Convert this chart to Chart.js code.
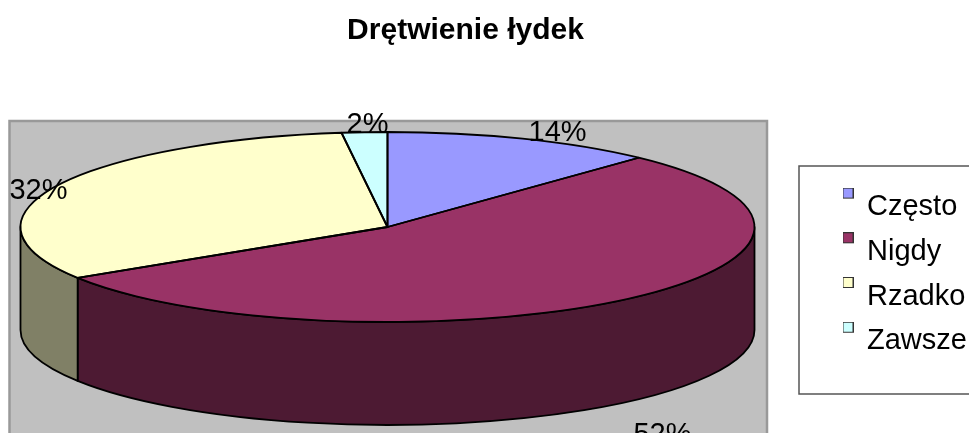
<!DOCTYPE html>
<html>
<head>
<meta charset="utf-8">
<style>
  body { margin: 0; background: #fff; }
  canvas { display: block; }
</style>
<script src="https://cdn.jsdelivr.net/npm/chart.js@4/dist/chart.umd.min.js"></script>
</head>
<body>
<canvas id="myChart" width="969" height="433"></canvas>
<script>
var title = 'Drętwienie łydek';
var categories = ['Często', 'Nigdy', 'Rzadko', 'Zawsze'];
// slice sizes as measured on the drawn pie; the printed labels below differ a little for the first two
var sliceShares = [12, 54, 32, 2];
var percentLabels = ['14%', '52%', '32%', '2%'];

var topColors = ['#9999ff', '#993366', '#ffffcc', '#ccffff'];
var sideColors = ['#4d4d80', '#4d1a33', '#808066', '#668080'];
var labelNudges = [[35, -6], [41, 32], [-17, 4], [3, -7]];

var pieBox = { x: 387.5, y: 227, rx: 367, ry: 95, depth: 103 };
var FONT = '"Liberation Sans", Arial, sans-serif';

function arcAngles(arc) {
    return { from: arc.startAngle, to: arc.endAngle };
}

function drawWall(ctx, a, b, color) {
    var p = pieBox;
    ctx.beginPath();
    ctx.ellipse(p.x, p.y, p.rx, p.ry, 0, a, b);
    ctx.lineTo(p.x + p.rx * Math.cos(b), p.y + p.ry * Math.sin(b) + p.depth);
    ctx.ellipse(p.x, p.y + p.depth, p.rx, p.ry, 0, b, a, true);
    ctx.closePath();
    ctx.fillStyle = color;
    ctx.fill();
    ctx.stroke();
}

var piePlugin = {
    id: 'flatPie',
    beforeDraw: function (chart) {
        var ctx = chart.ctx;
        ctx.save();
        ctx.strokeStyle = '#555555';
        ctx.lineWidth = 1.5;
        ctx.beginPath();
        ctx.moveTo(969, 166);
        ctx.lineTo(799, 166);
        ctx.lineTo(799, 394);
        ctx.lineTo(969, 394);
        ctx.stroke();
        ctx.restore();
    },
    afterLayout: function (chart) {
        // title sits over the left part, legend in its own frame
        chart.titleBlock.right = 931;
        var legend = chart.legend;
        var h = legend.bottom - legend.top;
        legend.left = 827.8;
        legend.right = 969;
        legend.top = 176.9;
        legend.bottom = 176.9 + h;
    },
    beforeDatasetsDraw: function (chart) {
        var ctx = chart.ctx;
        var arcs = chart.getDatasetMeta(0).data;
        ctx.save();
        ctx.fillStyle = '#c0c0c0';
        ctx.fillRect(9, 121, 758, 320);
        ctx.strokeStyle = '#999999';
        ctx.lineWidth = 2.5;
        ctx.beginPath();
        ctx.moveTo(9.5, 440);
        ctx.lineTo(9.5, 121);
        ctx.lineTo(767, 121);
        ctx.lineTo(767, 440);
        ctx.stroke();

        // front wall of the disc, only where an arc faces the viewer
        ctx.strokeStyle = '#000';
        ctx.lineWidth = 1.8;
        ctx.lineJoin = 'round';
        arcs.forEach(function (arc, i) {
            var r = arcAngles(arc);
            var a = Math.max(r.from, 0);
            var b = Math.min(r.to, Math.PI);
            if (b > a) {
                drawWall(ctx, a, b, sideColors[i]);
            }
        });
        ctx.restore();

        // squash the round pie into the tilted ellipse
        var first = arcs[0];
        ctx.save();
        ctx.translate(pieBox.x, pieBox.y);
        ctx.scale(pieBox.rx / first.outerRadius, pieBox.ry / first.outerRadius);
        ctx.translate(-first.x, -first.y);
    },
    afterDatasetsDraw: function (chart) {
        var ctx = chart.ctx;
        var p = pieBox;
        var arcs = chart.getDatasetMeta(0).data;
        ctx.restore();

        ctx.save();
        ctx.strokeStyle = '#000';
        ctx.lineWidth = 1.8;
        ctx.lineJoin = 'round';
        arcs.forEach(function (arc) {
            var r = arcAngles(arc);
            ctx.beginPath();
            ctx.moveTo(p.x, p.y);
            ctx.ellipse(p.x, p.y, p.rx, p.ry, 0, r.from, r.to);
            ctx.closePath();
            ctx.stroke();
        });

        ctx.fillStyle = '#000';
        ctx.font = '29px ' + FONT;
        ctx.textAlign = 'center';
        ctx.textBaseline = 'middle';
        arcs.forEach(function (arc, i) {
            var r = arcAngles(arc);
            var mid = (r.from + r.to) / 2;
            var lx = p.x + p.rx * Math.cos(mid);
            var ly = p.y + p.ry * Math.sin(mid);
            if (Math.sin(mid) > 0) {
                ly += p.depth;
            }
            ctx.fillText(percentLabels[i], lx + labelNudges[i][0], ly + labelNudges[i][1]);
        });
        ctx.restore();
    }
};

// legend marker sits above the text line, so the marker image carries empty space below it
function legendMarker(color) {
    var c = document.createElement('canvas');
    c.width = 11;
    c.height = 39;
    var g = c.getContext('2d');
    g.fillStyle = color;
    g.fillRect(0.5, 0.5, 10, 10);
    g.strokeStyle = '#333';
    g.lineWidth = 1;
    g.strokeRect(0.5, 0.5, 10, 10);
    return c;
}

new Chart(document.getElementById('myChart'), {
    type: 'pie',
    data: {
        labels: categories,
        datasets: [{
            data: sliceShares,
            backgroundColor: topColors,
            borderWidth: 0,
            clip: false
        }]
    },
    plugins: [piePlugin],
    options: {
        responsive: false,
        animation: false,
        plugins: {
            tooltip: { enabled: false },
            title: {
                display: true,
                text: title,
                color: '#000',
                padding: { top: 13, bottom: 10 },
                font: { family: FONT, size: 30, weight: 'bold' }
            },
            legend: {
                position: 'right',
                align: 'start',
                labels: {
                    color: '#000',
                    font: { family: FONT, size: 29 },
                    padding: 15.7,
                    usePointStyle: true,
                    pointStyleWidth: 9,
                    generateLabels: function (chart) {
                        var items = Chart.overrides.pie.plugins.legend.labels.generateLabels(chart);
                        items.forEach(function (item, i) {
                            item.pointStyle = legendMarker(topColors[i]);
                        });
                        return items;
                    }
                }
            }
        }
    }
});
</script>
</body>
</html>
